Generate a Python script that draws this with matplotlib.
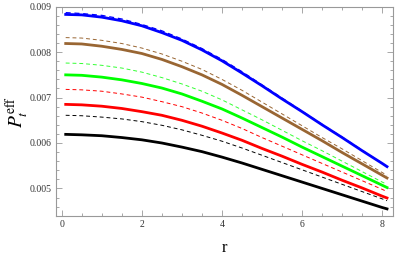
import matplotlib.pyplot as plt
from matplotlib.ticker import MultipleLocator

plt.rcParams["font.family"] = "Liberation Serif"
plt.rcParams["mathtext.fontset"] = "stix"

# values
r = [0.1, 0.5, 1, 1.5, 2, 2.5, 3, 3.5, 4, 4.5, 5, 5.5, 6, 6.5, 7, 7.5, 8, 8.12]

blue_solid = [0.00883, 0.00882, 0.00877, 0.00869, 0.00858, 0.00843, 0.00826, 0.00805, 0.00781,
              0.00754, 0.00726, 0.00697, 0.00669, 0.00640, 0.00612, 0.00583, 0.00555, 0.00548]
blue_dash = [0.00887, 0.00885, 0.00881, 0.00873, 0.00861, 0.00847, 0.00829, 0.00808, 0.00784,
             0.00757, 0.00728, 0.00699, 0.00670, 0.00641, 0.00613, 0.00584, 0.00555, 0.00548]
brown_solid = [0.00819, 0.00818, 0.00813, 0.00806, 0.00797, 0.00784, 0.00768, 0.00750, 0.00729,
               0.00705, 0.00680, 0.00655, 0.00630, 0.00605, 0.00579, 0.00554, 0.00529, 0.00523]
brown_dash = [0.00832, 0.00831, 0.00826, 0.00819, 0.00809, 0.00796, 0.00780, 0.00762, 0.00740,
              0.00716, 0.00690, 0.00664, 0.00638, 0.00612, 0.00587, 0.00561, 0.00535, 0.00529]
green_solid = [0.00750, 0.00749, 0.00745, 0.00739, 0.00731, 0.00721, 0.00708, 0.00692, 0.00675,
               0.00655, 0.00634, 0.00613, 0.00591, 0.00570, 0.00549, 0.00528, 0.00507, 0.00502]
green_dash = [0.00776, 0.00775, 0.00771, 0.00765, 0.00756, 0.00744, 0.00730, 0.00714, 0.00695,
              0.00673, 0.00651, 0.00628, 0.00605, 0.00583, 0.00560, 0.00537, 0.00514, 0.00509]
red_solid = [0.00685, 0.00684, 0.00681, 0.00676, 0.00669, 0.00661, 0.00650, 0.00637, 0.00622,
             0.00606, 0.00588, 0.00571, 0.00553, 0.00536, 0.00518, 0.00501, 0.00483, 0.00479]
red_dash = [0.00718, 0.00717, 0.00714, 0.00708, 0.00701, 0.00691, 0.00680, 0.00666, 0.00650,
            0.00632, 0.00612, 0.00593, 0.00574, 0.00555, 0.00536, 0.00517, 0.00498, 0.00493]
black_solid = [0.00619, 0.00618, 0.00616, 0.00612, 0.00607, 0.00600, 0.00591, 0.00581, 0.00569,
               0.00556, 0.00542, 0.00528, 0.00514, 0.00500, 0.00486, 0.00472, 0.00458, 0.00455]
black_dash = [0.00661, 0.00660, 0.00657, 0.00653, 0.00647, 0.00639, 0.00629, 0.00617, 0.00604,
              0.00589, 0.00573, 0.00557, 0.00541, 0.00525, 0.00509, 0.00493, 0.00477, 0.00473]

brown = (0.6, 0.4, 0.2)

fig = plt.figure(figsize=(3.95, 2.58), dpi=100)
ax = fig.add_axes([0.142, 0.164, 0.853, 0.81])

dash = (0, (4, 3))
ax.plot(r, black_dash, color="black", lw=0.7, ls=dash)
ax.plot(r, red_dash, color="red", lw=0.7, ls=dash)
ax.plot(r, green_dash, color=(0.2, 1, 0.2), lw=0.7, ls=dash)
ax.plot(r, brown_dash, color=brown, lw=0.7, ls=dash)
ax.plot(r, black_solid, color="black", lw=2)
ax.plot(r, red_solid, color="red", lw=2)
ax.plot(r, green_solid, color=(0, 1, 0), lw=2)
ax.plot(r, brown_solid, color=brown, lw=2)
ax.plot(r, blue_dash, color="blue", lw=0.9, ls=dash)
ax.plot(r, blue_solid, color="blue", lw=2)

ax.set_xlim(-0.14, 8.27)
ax.set_ylim(0.0044, 0.009)
ax.xaxis.set_major_locator(MultipleLocator(2))
ax.xaxis.set_minor_locator(MultipleLocator(0.5))
ax.yaxis.set_major_locator(MultipleLocator(0.001))
ax.yaxis.set_minor_locator(MultipleLocator(0.0002))
ax.yaxis.set_major_formatter(plt.FuncFormatter(lambda v, p: "%.3f" % v))

for s in ax.spines.values():
    s.set_color("#999999")
    s.set_linewidth(0.8)
ax.tick_params(which="both", direction="in", top=True, right=True,
               color="#999999", labelsize=7, labelcolor="#333333", width=0.6)
ax.tick_params(which="major", length=4, pad=3)
ax.tick_params(which="minor", length=2)

ax.set_xlabel("r", fontsize=12, labelpad=8)
fig.text(17.5 / 395, 1 - 112 / 258, r"$P_t^{\mathrm{eff}}$", fontsize=14,
         rotation=90, ha="center", va="center")

plt.savefig("out.png", dpi=100)
